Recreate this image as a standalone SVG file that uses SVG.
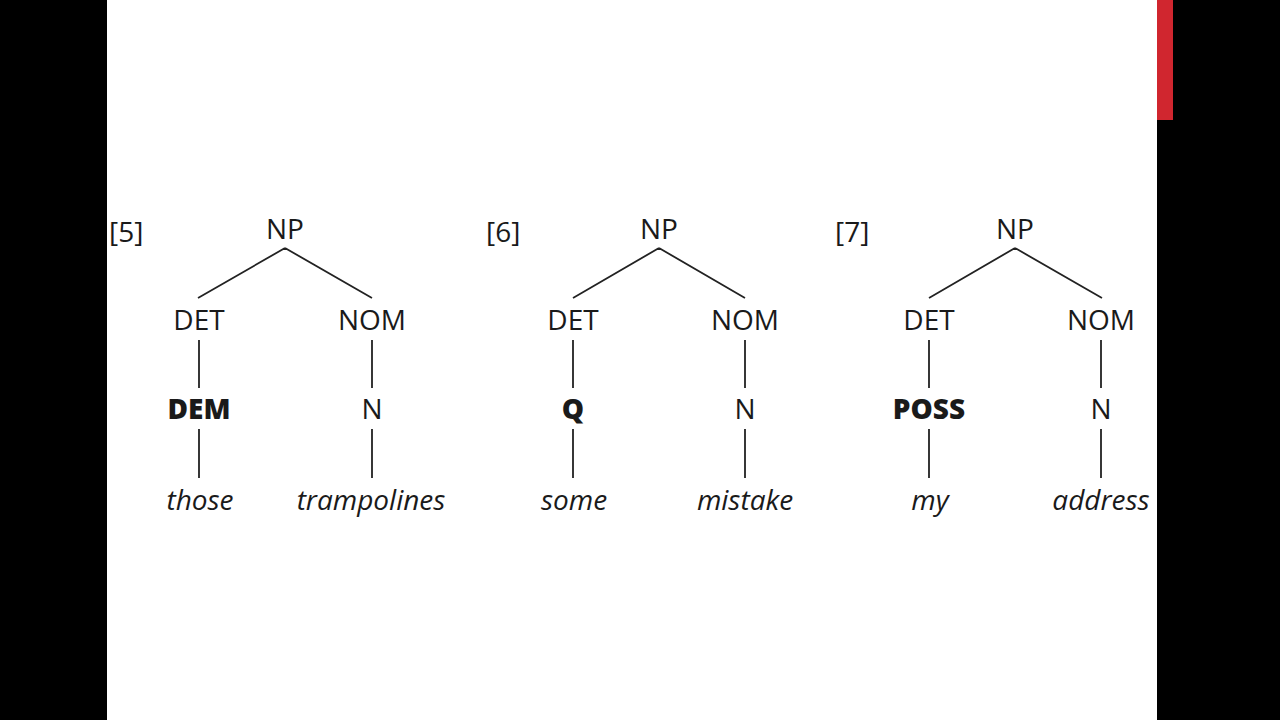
<svg xmlns="http://www.w3.org/2000/svg" width="1280" height="720" viewBox="0 0 1280 720">
<style>
text{font-family:"Open Sans","Liberation Sans",sans-serif;font-size:28px;fill:#1a1a1a;text-anchor:middle}
.b{font-weight:800}
.i{font-style:italic}
.num{text-anchor:start}
.e{stroke:#222;stroke-width:1.8;fill:none}
</style>
<rect x="0" y="0" width="1280" height="720" fill="#000"/>
<rect x="107" y="0" width="1050" height="720" fill="#fff"/>
<rect x="1157" y="0" width="16" height="120" fill="#d0262f"/>
<g id="connectors">
<path class="e" d="M285 248L198 298M285 248L372 298M199 340V388M372 340V388M199 429V478M372 429V478"/>
<path class="e" d="M659 248L573 298M659 248L745 298M573 340V388M745 340V388M573 429V478M745 429V478"/>
<path class="e" d="M1015 248L929 298M1015 248L1102 298M929 340V388M1101 340V388M929 429V478M1101 429V478"/>
</g>
<g id="tree5">
<text class="num" x="109" y="242">[5]</text>
<g id="np5"><text x="285" y="239">NP</text></g>
<g id="det5"><text x="199" y="330">DET</text></g>
<g id="nom5"><text x="372" y="330">NOM</text></g>
<g id="dem5"><text class="b" x="199" y="419">DEM</text></g>
<g id="n5"><text x="372" y="419">N</text></g>
<g id="those"><text class="i" x="200" y="510">those</text></g>
<g id="trampolines"><text class="i" x="371" y="510">trampolines</text></g>
</g>
<g id="tree6">
<text class="num" x="486" y="242">[6]</text>
<g id="np6"><text x="659" y="239">NP</text></g>
<g id="det6"><text x="573" y="330">DET</text></g>
<g id="nom6"><text x="745" y="330">NOM</text></g>
<g id="q6"><text class="b" x="573" y="419">Q</text></g>
<g id="n6"><text x="745" y="419">N</text></g>
<g id="some"><text class="i" x="574" y="510">some</text></g>
<g id="mistake"><text class="i" x="745" y="510">mistake</text></g>
</g>
<g id="tree7">
<text class="num" x="835" y="242">[7]</text>
<g id="np7"><text x="1015" y="239">NP</text></g>
<g id="det7"><text x="929" y="330">DET</text></g>
<g id="nom7"><text x="1101" y="330">NOM</text></g>
<g id="poss7"><text class="b" x="929" y="419">POSS</text></g>
<g id="n7"><text x="1101" y="419">N</text></g>
<g id="my"><text class="i" x="930" y="510">my</text></g>
<g id="address"><text class="i" x="1101" y="510">address</text></g>
</g>
</svg>
